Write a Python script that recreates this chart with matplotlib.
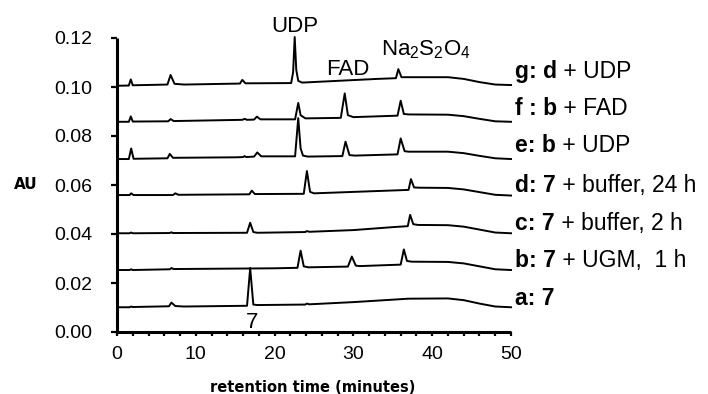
import matplotlib
matplotlib.use("Agg")
import matplotlib.pyplot as plt
from matplotlib.ticker import MultipleLocator, FormatStrFormatter

plt.rcParams['font.family'] = ['Liberation Sans', 'DejaVu Sans']
plt.rcParams['mathtext.fontset'] = 'custom'
plt.rcParams['mathtext.rm'] = 'Liberation Sans'
plt.rcParams['mathtext.it'] = 'Liberation Sans:italic'
plt.rcParams['mathtext.bf'] = 'Liberation Sans:bold'

# chromatogram traces: (retention time in min, AU)
trace_a = [(0, 0.0101), (1.6, 0.0101), (1.8, 0.0104), (2.0, 0.0102), (6.6, 0.0105), (6.9, 0.0120),
           (7.4, 0.0106), (8.5, 0.0104), (16.5, 0.0107), (16.9, 0.0261), (17.3, 0.0112), (17.8, 0.0110),
           (23.9, 0.0112), (24.1, 0.0116), (24.4, 0.0113), (30, 0.0122), (37, 0.0136), (42, 0.0137),
           (44, 0.0130), (46, 0.0116), (48, 0.0104), (50, 0.0101)]
trace_b = [(0, 0.0253), (1.6, 0.0253), (1.8, 0.0256), (2.0, 0.0253), (6.7, 0.0256), (6.9, 0.0261),
           (7.2, 0.0257), (20, 0.0260), (22.9, 0.0262), (23.3, 0.0332), (23.7, 0.0268), (24.3, 0.0264),
           (29.3, 0.0267), (29.8, 0.0308), (30.3, 0.0271), (30.8, 0.0269), (36.0, 0.0275), (36.4, 0.0337),
           (36.8, 0.0290), (37.4, 0.0287), (42, 0.0286), (44, 0.0280), (46, 0.0268), (48, 0.0256),
           (50, 0.0253)]
trace_c = [(0, 0.0403), (1.6, 0.0403), (1.8, 0.0406), (2.0, 0.0403), (6.7, 0.0404), (6.9, 0.0407),
           (7.1, 0.0404), (16.5, 0.0405), (16.9, 0.0446), (17.3, 0.0408), (17.8, 0.0405), (23.9, 0.0408),
           (24.1, 0.0412), (24.4, 0.0409), (30, 0.0416), (35, 0.0428), (36.9, 0.0432), (37.2, 0.0478),
           (37.6, 0.0440), (38.2, 0.0437), (42, 0.0436), (44, 0.0430), (46, 0.0418), (48, 0.0406),
           (50, 0.0403)]
trace_d = [(0, 0.0559), (1.6, 0.0559), (1.8, 0.0566), (2.1, 0.0559), (7.1, 0.0559), (7.4, 0.0566),
           (7.8, 0.0560), (16.8, 0.0562), (17.1, 0.0577), (17.5, 0.0563), (23.7, 0.0564), (24.1, 0.0657),
           (24.5, 0.0572), (25.0, 0.0566), (37.0, 0.0580), (37.3, 0.0624), (37.7, 0.0590), (38.3, 0.0589),
           (42, 0.0588), (44, 0.0582), (46, 0.0571), (48, 0.0560), (50, 0.0557)]
trace_e = [(0, 0.0706), (1.5, 0.0706), (1.8, 0.0749), (2.1, 0.0707), (6.4, 0.0709), (6.7, 0.0727),
           (7.1, 0.0711), (15, 0.0713), (16.0, 0.0714), (16.2, 0.0718), (16.4, 0.0714), (17.4, 0.0716),
           (17.8, 0.0733), (18.3, 0.0717), (22.6, 0.0717), (23.0, 0.0873), (23.3, 0.0750), (23.6, 0.0720),
           (24.2, 0.0716), (28.6, 0.0718), (29.0, 0.0777), (29.5, 0.0722), (30.2, 0.0720), (35.6, 0.0725),
           (36.0, 0.0790), (36.5, 0.0738), (37, 0.0736), (42, 0.0736), (44, 0.0730), (46, 0.0719),
           (48, 0.0709), (50, 0.0706)]
trace_f = [(0, 0.0858), (1.5, 0.0858), (1.75, 0.0880), (2.0, 0.0859), (6.5, 0.0860), (6.8, 0.0869),
           (7.2, 0.0861), (15.9, 0.0866), (16.2, 0.0870), (16.5, 0.0866), (17.4, 0.0867), (17.75, 0.0879),
           (18.2, 0.0868), (22.6, 0.0868), (23.0, 0.0935), (23.3, 0.0885), (23.9, 0.0872), (28.4, 0.0874),
           (28.9, 0.0974), (29.3, 0.0885), (30, 0.0877), (35.6, 0.0883), (36.0, 0.0944), (36.4, 0.0890),
           (37, 0.0888), (42, 0.0887), (44, 0.0881), (46, 0.0870), (48, 0.0860), (50, 0.0858)]
trace_g = [(0, 0.1005), (1.5, 0.1006), (1.75, 0.1031), (2.0, 0.1007), (6.4, 0.1010), (6.8, 0.1049),
           (7.3, 0.1013), (8.5, 0.1010), (15.6, 0.1014), (15.9, 0.1029), (16.3, 0.1015), (22.1, 0.1016),
           (22.35, 0.1060), (22.55, 0.1204), (22.75, 0.1070), (23.0, 0.1025), (23.5, 0.1018), (33, 0.1033),
           (35.4, 0.1036), (35.7, 0.1073), (36.1, 0.1040), (42, 0.1040), (44, 0.1033), (46, 0.1020),
           (48, 0.1010), (50, 0.1008)]
traces = [trace_a, trace_b, trace_c, trace_d, trace_e, trace_f, trace_g]

label_bold = ["a: 7", "b: 7", "c: 7", "d: 7", "e: b", "f : b", "g: d"]
label_rest = ["", " + UGM,  1 h", " + buffer, 2 h", " + buffer, 24 h", " + UDP", " + FAD", " + UDP"]
label_y = [0.0110, 0.0264, 0.0416, 0.0573, 0.0736, 0.0886, 0.1036]

peak_names = ["UDP", "FAD", "Na$_2$S$_2$O$_4$", "7"]
peak_x = [22.6, 29.25, 33.45, 17.1]
peak_y = [0.1226, 0.1049, 0.1131, 0.0015]
peak_ha = ["center", "center", "left", "center"]

fig = plt.figure(figsize=(7.08, 3.94), dpi=100)
ax = fig.add_axes([117 / 708, 62 / 394, 394 / 708, 294 / 394])

for tr in traces:
    xs = [p[0] for p in tr]
    ys = [p[1] for p in tr]
    ax.plot(xs, ys, color='black', lw=1.4, clip_on=False, solid_joinstyle='round')

ax.set_xlim(0, 50)
ax.set_ylim(0, 0.12)
for s in ['top', 'right']:
    ax.spines[s].set_visible(False)
for s in ['left', 'bottom']:
    ax.spines[s].set_linewidth(2.2)
    ax.spines[s].set_capstyle('butt')

ax.xaxis.set_major_locator(MultipleLocator(10))
ax.xaxis.set_minor_locator(MultipleLocator(2))
ax.yaxis.set_major_locator(MultipleLocator(0.02))
ax.yaxis.set_major_formatter(FormatStrFormatter('%.2f'))
ax.tick_params(axis='x', which='both', direction='out', length=3, width=1.6, pad=7, labelsize=14)
ax.tick_params(axis='y', which='major', direction='out', length=4, width=1.6, pad=13.5, labelsize=14)

for i in range(len(traces)):
    t = ax.text(50.5, label_y[i], label_bold[i], fontsize=16.5, fontweight='bold',
                ha='left', va='baseline', clip_on=False)
    if label_rest[i]:
        ax.annotate(label_rest[i], xy=(1, 0), xycoords=t, fontsize=16.5,
                    ha='left', va='bottom', annotation_clip=False)

for name, x, y, ha in zip(peak_names, peak_x, peak_y, peak_ha):
    ax.text(x, y, name, fontsize=16, ha=ha, va='baseline', clip_on=False)

fig.text(26 / 708, 1 - 184 / 394, "AU", family='DejaVu Sans', fontweight='bold',
         fontsize=11, ha='center', va='center')
fig.text(313 / 708, 2.5 / 394, "retention time (minutes)", family='DejaVu Sans',
         fontweight='bold', fontsize=10.5, ha='center', va='baseline')

fig.savefig("out.png", dpi=100)
